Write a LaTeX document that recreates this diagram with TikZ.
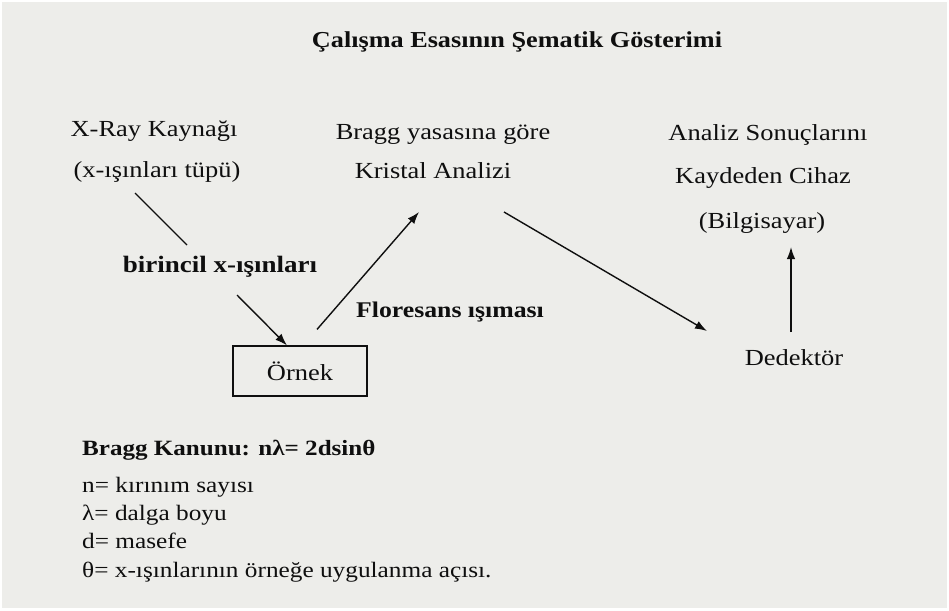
\documentclass[tikz,border=0pt]{standalone}
\usepackage{fontspec}
\setmainfont{Liberation Serif}[FakeStretch=1.15]
\usetikzlibrary{arrows.meta,calc}
\definecolor{paper}{RGB}{237,237,234}
\definecolor{ink}{RGB}{15,15,15}
\begin{document}
\begin{tikzpicture}[x=1pt,y=-1pt,
  lbl/.style={anchor=base,inner sep=0pt,text=ink,font=\fontsize{23}{26}\selectfont},
  bold/.style={lbl,font=\fontsize{22.8}{26}\selectfont\bfseries},
  listtxt/.style={anchor=base west,inner sep=0pt,text=ink,font=\fontsize{22}{26}\selectfont},
  conn/.style={draw=ink,line width=1.4pt},
  arr/.style={conn,-{Latex[length=12pt,width=8.5pt]}},
  boxed/.style={draw=ink,line width=1.2pt,minimum width=134pt,minimum height=50pt,inner sep=0pt,text=ink,font=\fontsize{23}{26}\selectfont}
]
\useasboundingbox (0,0) rectangle (949,610);
\fill[white] (0,0) rectangle (949,610);
\fill[paper] (2,2) rectangle (947,608);

\node[bold] (title) at (517,48) {Çalışma Esasının Şematik Gösterimi};

\node[lbl] (xray) at (154,136) {X-Ray Kaynağı};
\node[lbl] (tube) at (157,177) {(x-ışınları tüpü)};
\node[lbl] (bragg) at (443,139) {Bragg yasasına göre};
\node[lbl] (kristal) at (433,178) {Kristal Analizi};
\node[lbl] (analiz) at (768,140) {Analiz Sonuçlarını};
\node[lbl] (kaydeden) at (763,183) {Kaydeden Cihaz};
\node[lbl] (bilgisayar) at (762,228) {(Bilgisayar)};

\node[bold,font=\fontsize{23.5}{26}\selectfont\bfseries] (birincil) at (220,272) {birincil x-ışınları};
\node[bold,font=\fontsize{22.4}{26}\selectfont\bfseries] (floresans) at (450,317) {Floresans ışıması};

\node[boxed] (ornek) at (300,371) {Örnek};
\node[lbl] (dedektor) at (794,365) {Dedektör};

\draw[conn] ($(tube.base)+(-22,16)$) -- ($(birincil.base)+(-33,-27)$);
\draw[arr] ($(birincil.base)+(17,23)$) -- ($(ornek.north)+(-13,0)$);
\draw[arr] ($(ornek.north)+(17,-16)$) -- ($(kristal.base)+(-14,34)$);
\draw[arr] ($(kristal.base)+(71,34)$) -- ($(dedektor.base)+(-87,-34)$);
\draw[arr] ($(dedektor.base)+(-3,-33)$) -- ($(bilgisayar.base)+(29,19)$);

\node[listtxt,font=\fontsize{21.8}{26}\selectfont\bfseries] (law) at (82,455) {Bragg Kanunu: nλ= 2dsinθ};
\node[listtxt] (l1) at (82,492) {n= kırınım sayısı};
\node[listtxt] (l2) at (82,520) {λ= dalga boyu};
\node[listtxt] (l3) at (82,548) {d= masefe};
\node[listtxt] (l4) at (82,577) {θ= x-ışınlarının örneğe uygulanma açısı.};
\end{tikzpicture}
\end{document}
